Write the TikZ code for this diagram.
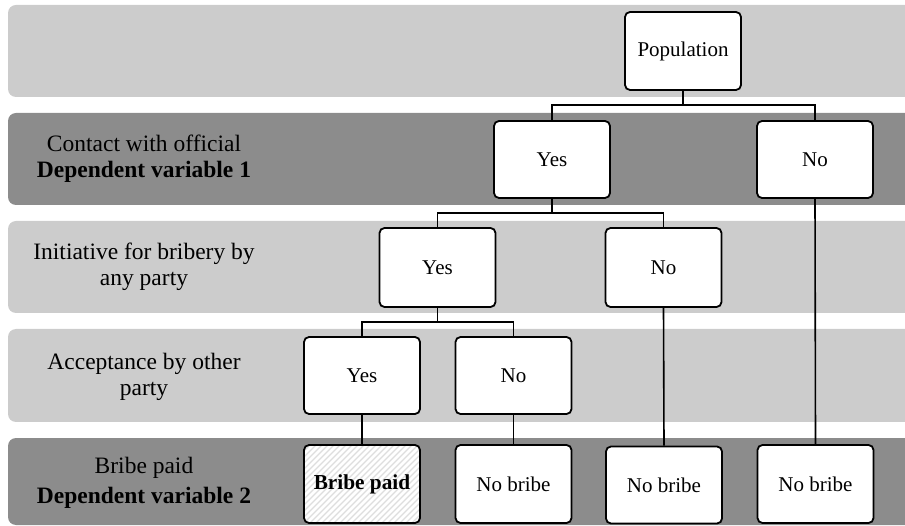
\documentclass[tikz,border=0pt]{standalone}
\usepackage{fontspec}
\setmainfont{Liberation Serif}
\definecolor{bandlight}{HTML}{CCCCCC}
\definecolor{banddark}{HTML}{8C8C8C}
\definecolor{hatch}{HTML}{DEDEDE}
\tikzset{
  band/.style={rounded corners=8pt},
  boxnode/.style={draw=black, line width=1.8pt, rounded corners=5pt, fill=white,
    minimum width=116pt, minimum height=78pt, inner sep=0pt,
    font=\fontsize{21pt}{24pt}\selectfont},
  hatched/.style={path picture={
    \foreach \i in {-120,-114,...,120}
      \draw[hatch, line width=1.2pt] ([xshift=\i pt]path picture bounding box.south west) -- ++(100pt,100pt);
  }},
  rowlabel/.style={align=center, inner sep=0pt, font=\fontsize{23.5pt}{26pt}\selectfont},
  conn/.style={line width=1.6pt, draw=black}
}
\begin{document}
\begin{tikzpicture}[x=1pt,y=-1pt]
\useasboundingbox (0,0) rectangle (905,526);
\clip (0,0) rectangle (905,526);
% bands
\fill[bandlight, band] (8,5) rectangle (930,97);
\fill[banddark, band] (8,113) rectangle (930,205);
\fill[bandlight, band] (8,221) rectangle (930,313);
\fill[bandlight, band] (8,329) rectangle (930,422);
\fill[banddark, band] (8,438) rectangle (930,525);
% row labels
\node[rowlabel] (l2) at (144,159) {Contact with official\\\textbf{Dependent variable 1}};
\node[rowlabel] (l3) at (144,267) {Initiative for bribery by\\any party};
\node[rowlabel] (l4) at (144,377) {Acceptance by other\\party};
\node[rowlabel, font=\fontsize{23.5pt}{30pt}\selectfont] (l5) at (144,483) {Bribe paid\\\textbf{Dependent variable 2}};
% boxes
\node[boxnode] (pop) at (683,51) {Population};
\node[boxnode, minimum height=77pt] (yes1) at (552,159.5) {Yes};
\node[boxnode, minimum height=77pt] (no1) at (815,159.5) {No};
\node[boxnode, minimum height=79pt] (yes2) at (437.5,267.5) {Yes};
\node[boxnode, minimum height=79pt] (no2) at (663.5,267.5) {No};
\node[boxnode, minimum height=77pt] (yes3) at (362,375.5) {Yes};
\node[boxnode, minimum height=77pt] (no3) at (513.5,375.5) {No};
\node[boxnode, hatched, font=\fontsize{21.3pt}{24pt}\selectfont\bfseries] (bp) at (362,484) {Bribe paid};
\node[boxnode] (nb1) at (513.5,484) {No bribe};
\node[boxnode, minimum height=77pt] (nb2) at (664,485) {No bribe};
\node[boxnode] (nb3) at (815.5,484) {No bribe};
% junctions
\coordinate (j1) at (683,105);
\coordinate (j2) at (552,213);
\coordinate (j3) at (437.5,322);
% connectors
\draw[conn] (pop.south) -- (j1);
\draw[conn] (yes1.north) |- (j1) -| (no1.north);
\draw[conn] (yes1.south) -- (j2);
\draw[conn] (yes2.north) |- (j2) -| (no2.north);
\draw[conn] (yes2.south) -- (j3);
\draw[conn] (yes3.north) |- (j3) -| (no3.north);
\draw[conn] (no1.south) -- (nb3.north);
\draw[conn] (no2.south) -- (nb2.north);
\draw[conn] (yes3.south) -- (bp.north);
\draw[conn] (no3.south) -- (nb1.north);
\end{tikzpicture}
\end{document}
